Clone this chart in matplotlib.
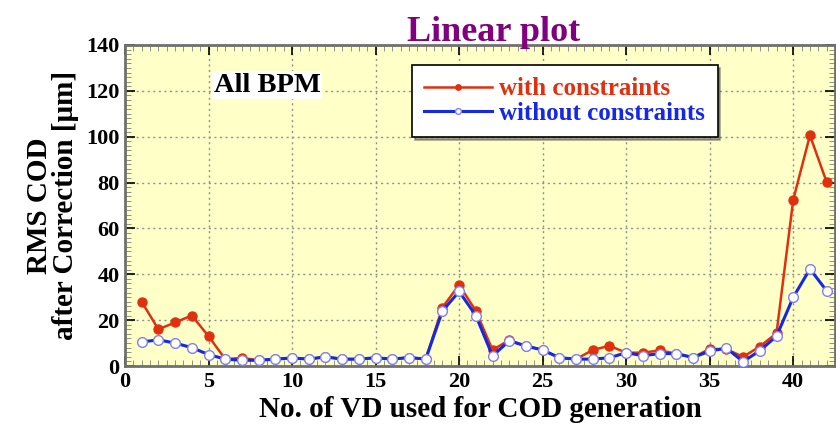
import matplotlib.pyplot as plt
from matplotlib.ticker import MultipleLocator

# RMS COD after correction vs. number of VD used for COD generation
vd_count = list(range(1, 43))
with_constraints = [28, 16, 19, 22, 13, 3, 3.5, 2.5, 3, 3.5,
                    3, 4, 3, 3, 3.6, 3, 3.7, 3, 25.5, 35.4,
                    24, 7, 11.3, 8.7, 7, 3.6, 3, 7, 8.8, 5.8,
                    5.8, 6.8, 5.4, 3.7, 7.5, 7.3, 4, 8.5, 14.3, 72.5,
                    100.6, 80.2]
without_constraints = [10.5, 11.4, 10, 8, 5, 3, 2.5, 2.5, 3, 3.5,
                       3, 4, 3, 3, 3.6, 3, 3.7, 3, 24, 32.5,
                       22, 4.4, 11, 8.7, 7, 3.6, 3, 3, 3.6, 5.8,
                       4.5, 5.4, 5.4, 3.7, 6.5, 7.8, 1.9, 6.7, 13, 30,
                       42.3, 32.8]

RED = '#e0300f'
BLUE = '#1428e6'

plt.rcParams['font.family'] = ['Liberation Serif', 'DejaVu Serif']
plt.rcParams['font.weight'] = 'bold'

fig = plt.figure(figsize=(8.37, 4.37), dpi=100)
ax = fig.add_axes([125 / 837, 1 - 366 / 437, 710 / 837, 321 / 437])
ax.set_facecolor('#ffffc8')

ax.plot(vd_count, with_constraints, color=RED, lw=1.8, marker='o', ms=6.5,
        mfc=RED, mec=RED, label='with constraints', zorder=3)
ax.plot(vd_count, without_constraints, color=BLUE, lw=2.2, marker='o', ms=7,
        mfc='white', mec='#8080f0', mew=1.0, label='without constraints', zorder=4)

ax.set_xlim(0, 42.5)
ax.set_ylim(0, 140)
ax.xaxis.set_major_locator(MultipleLocator(5))
ax.yaxis.set_major_locator(MultipleLocator(20))
ax.xaxis.set_minor_locator(MultipleLocator(0.5))
ax.yaxis.set_minor_locator(MultipleLocator(2))
ax.tick_params(which='major', direction='in', length=7, width=1.2,
               top=True, right=True, labelsize=16, pad=4)
ax.tick_params(which='minor', direction='in', length=4, width=0.6,
               top=True, right=True, color='#808080')
for lbl in ax.get_xticklabels() + ax.get_yticklabels():
    lbl.set_fontweight('bold')
ax.grid(True, which='major', color='#909090', ls=(0, (1.5, 2.5)), lw=1.0)
for s in ax.spines.values():
    s.set_color('#707070')
    s.set_linewidth(2.0)

ax.set_xlabel('No. of VD used for COD generation', fontsize=21, fontweight='bold', labelpad=3)
ax.set_ylabel('RMS COD\nafter Correction [\u03bcm]', fontsize=21, fontweight='bold',
              labelpad=5, linespacing=0.95)
fig.text(0.59, 0.925, 'Linear plot', color='#800080', fontsize=26, fontweight='bold',
         ha='center', va='center')

ax.text(0.125, 0.875, 'All BPM', transform=ax.transAxes, fontsize=20.5, fontweight='bold',
        ha='left', va='center', bbox=dict(facecolor='white', edgecolor='none', pad=1.0))

leg = ax.legend(loc='upper left', bbox_to_anchor=(0.404, 0.938), borderaxespad=0,
                frameon=True, fancybox=False, shadow=True, fontsize=18, handlelength=2.7,
                markerscale=0.6, borderpad=0.5, labelspacing=0.05, handletextpad=0.3)
leg.get_frame().set_edgecolor('black')
leg.get_frame().set_linewidth(1.2)
for txt, c in zip(leg.get_texts(), [RED, BLUE]):
    txt.set_color(c)
    txt.set_fontweight('bold')

fig.savefig('out.png', dpi=100)
